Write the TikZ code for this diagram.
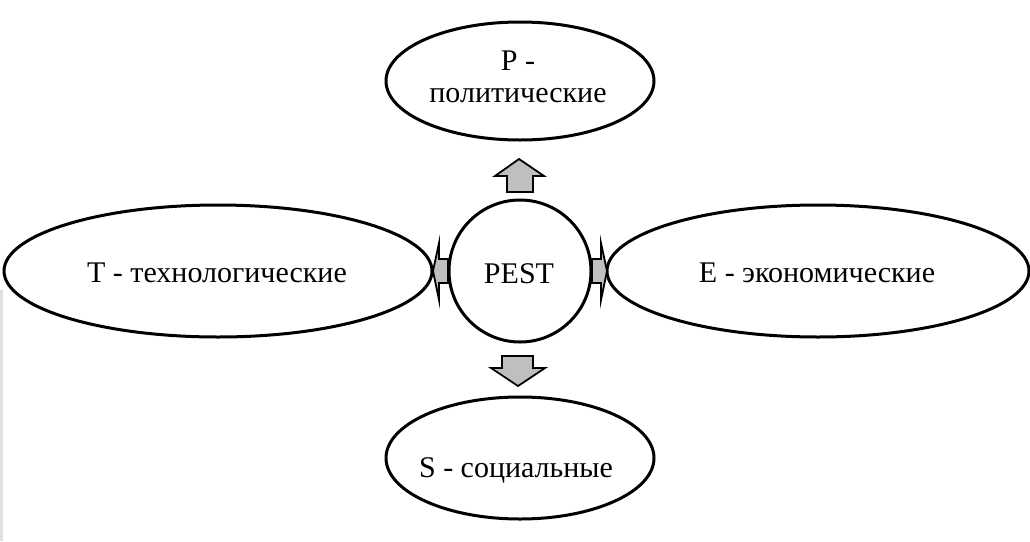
\documentclass[tikz,border=0pt]{standalone}
\usepackage{fontspec}
\setmainfont{Liberation Serif}
\begin{document}
\begin{tikzpicture}[x=1pt,y=-1pt,
  oval/.style={draw=black,line width=3pt,fill=white},
  lbl/.style={font=\fontsize{30}{32}\selectfont,align=center,inner sep=0pt,anchor=base},
  blockarrow/.style={draw=black,line width=1.8pt,fill=black!25,line join=miter}]
\useasboundingbox (0,0) rectangle (1030,541);
% faint strip at the left edge
\fill[black!12] (0,290) rectangle (3,541);

% factor ellipses and the central circle
\draw[oval] (520,81) ellipse [x radius=134,y radius=59];
\draw[oval] (218,271) ellipse [x radius=214,y radius=66];
\draw[oval] (818,271) ellipse [x radius=211,y radius=66];
\draw[oval] (520,458) ellipse [x radius=134,y radius=61];
\draw[oval] (520,271) circle [radius=71];

% labels (base anchor sits on the last line's baseline)
\node[lbl] (p) at (518,102) {P -\\политические};
\node[lbl] (t) at (217,282) {T - технологические};
\node[lbl] (e) at (817,282) {E - экономические};
\node[lbl] (s) at (516,477) {S - социальные};
\node[lbl] (c) at (519,283) {PEST};

% block arrows pointing outward from the centre
\draw[blockarrow] (519,159) -- (544,176) -- (533,176) -- (533,192) -- (507,192) -- (507,176) -- (495,176) -- cycle;
\draw[blockarrow] (502,356) -- (533,356) -- (533,368) -- (545,368) -- (518,386) -- (491,368) -- (502,368) -- cycle;
\draw[blockarrow] (433,271) -- (439,243) -- (439,259) -- (448,259) -- (448,283) -- (439,283) -- (439,300) -- cycle;
\draw[blockarrow] (607,271) -- (601,243) -- (601,259) -- (592,259) -- (592,283) -- (601,283) -- (601,300) -- cycle;
\end{tikzpicture}
\end{document}
